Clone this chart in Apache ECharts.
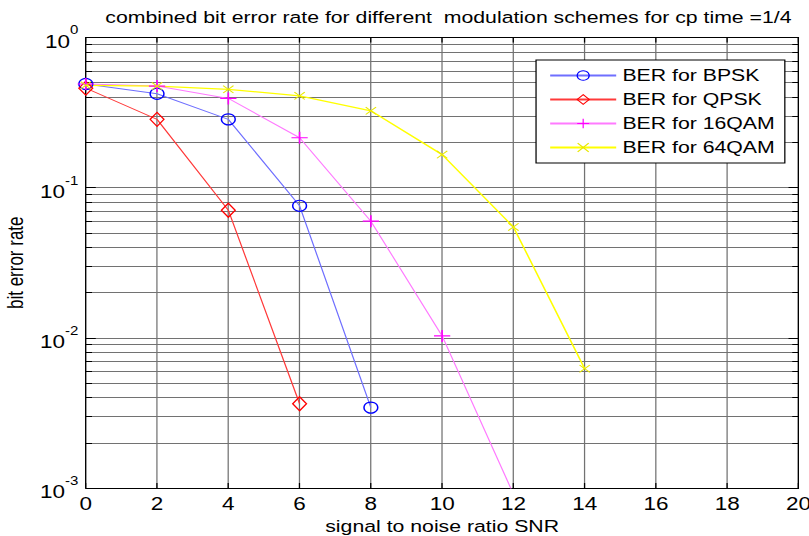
<!DOCTYPE html>
<html><head><meta charset="utf-8">
<script src="https://cdn.jsdelivr.net/npm/echarts@6/dist/echarts.min.js"></script>
<style>
html,body{margin:0;padding:0;background:#fff;overflow:hidden;}
#wrap{width:809px;height:536px;overflow:hidden;}
#chart{width:647px;height:536px;transform:scaleX(1.25039);transform-origin:0 0;}
</style></head><body><div id="wrap"><div id="chart"></div></div>
<script>
const snr = [0, 2, 4, 6, 8, 10, 12, 14];
const berBPSK = [0.49, 0.422, 0.285, 0.0757, 0.00343];
const berQPSK = [0.46, 0.285, 0.0708, 0.00364];
const ber16QAM = [0.49, 0.475, 0.393, 0.215, 0.0598, 0.0103, 0.00091];
const ber64QAM = [0.48, 0.475, 0.452, 0.409, 0.325, 0.166, 0.0548, 0.00623];
const seriesNames = ['BER for BPSK', 'BER for QPSK', 'BER for 16QAM', 'BER for 64QAM'];
const titleText = 'combined bit error rate for different  modulation schemes for cp time =1/4';
const xName = 'signal to noise ratio SNR';
const yName = 'bit error rate';

const FONT = 'Liberation Sans, Arial, sans-serif';
const pair = vals => vals.map((v, i) => [snr[i], v]);

const plusPath = 'path://M-0.6,-6H0.6V-0.6H6V0.6H0.6V6H-0.6V0.6H-6V-0.6H-0.6Z';
const xPath = 'path://M-5,-4.2L-4.2,-5L0,-0.8L4.2,-5L5,-4.2L0.8,0L5,4.2L4.2,5L0,0.8L-4.2,5L-5,4.2L-0.8,0Z';

const chart = echarts.init(document.getElementById('chart'), null, {renderer: 'svg'});
const gridColor = '#727272';
chart.setOption({
  animation: false,
  backgroundColor: '#fff',
  textStyle: {fontFamily: FONT},
  title: {
    text: titleText, left: 353.6, textAlign: 'center', top: 4,
    textStyle: {fontSize: 17, fontWeight: 'normal', color: '#000', fontFamily: FONT}
  },
  grid: {left: 68.6, right: 8.4, top: 37.5, bottom: 48, containLabel: false, outerBoundsMode: 'none'},
  legend: {
    orient: 'vertical', left: 428.7, top: 60,
    padding: [7, 8, 7, 10.3], itemWidth: 52.8, itemHeight: 12, itemGap: 7,
    backgroundColor: '#fff', borderColor: '#000', borderWidth: 1,
    textStyle: {fontSize: 17, color: '#000', fontFamily: FONT},
    itemStyle: {borderWidth: 1},
    data: seriesNames
  },
  xAxis: [{
    type: 'value', min: 0, max: 20, interval: 2, position: 'bottom',
    axisLine: {show: true, onZero: false, lineStyle: {color: '#000', width: 1}},
    axisTick: {show: true, inside: true, length: 5, lineStyle: {color: '#000'}},
    axisLabel: {fontSize: 18, color: '#000', margin: 7, fontFamily: FONT},
    splitLine: {show: true, lineStyle: {color: gridColor, width: 1}},
    name: xName, nameLocation: 'middle', nameGap: 27,
    nameTextStyle: {fontSize: 17, color: '#000', fontFamily: FONT}
  }, {
    type: 'value', min: 0, max: 20, interval: 2, position: 'top',
    axisLine: {show: true, onZero: false, lineStyle: {color: '#000', width: 1}},
    axisTick: {show: true, inside: true, length: 5, lineStyle: {color: '#000'}},
    axisLabel: {show: false}, splitLine: {show: false}
  }],
  yAxis: [{
    type: 'log', logBase: 10, min: 0.001, max: 1, position: 'left',
    axisLine: {show: true, onZero: false, lineStyle: {color: '#000', width: 1}},
    axisTick: {show: true, inside: true, length: 8, lineStyle: {color: '#000'}},
    minorTick: {show: true, splitNumber: 9, length: 5, lineStyle: {color: '#000'}},
    splitLine: {show: true, lineStyle: {color: gridColor, width: 1}},
    minorSplitLine: {show: true, lineStyle: {color: gridColor, width: 1}},
    axisLabel: {
      margin: 6,
      formatter: v => '{b|10}{s|' + Math.round(Math.log10(v)) + '}',
      rich: {
        b: {fontSize: 18, lineHeight: 26, verticalAlign: 'bottom', color: '#000', fontFamily: FONT},
        s: {fontSize: 12, lineHeight: 12, verticalAlign: 'top', color: '#000', fontFamily: FONT}
      }
    },
    name: yName, nameLocation: 'middle', nameGap: 43, nameRotate: 90,
    nameTextStyle: {fontSize: 17, color: '#000', fontFamily: FONT}
  }, {
    type: 'log', logBase: 10, min: 0.001, max: 1, position: 'right',
    axisLine: {show: true, onZero: false, lineStyle: {color: '#000', width: 1}},
    axisTick: {show: true, inside: true, length: 8, lineStyle: {color: '#000'}},
    minorTick: {show: true, splitNumber: 9, length: 5, lineStyle: {color: '#000'}},
    axisLabel: {show: false}, splitLine: {show: false}, minorSplitLine: {show: false}
  }],
  series: [{
    name: seriesNames[0], type: 'line', data: pair(berBPSK),
    symbol: 'circle', symbolSize: [11, 11],
    lineStyle: {color: '#6f6fff', width: 1},
    itemStyle: {color: 'rgba(0,0,0,0)', borderColor: '#0000ff', borderWidth: 1.2}
  }, {
    name: seriesNames[1], type: 'line', data: pair(berQPSK),
    symbol: 'diamond', symbolSize: [11, 14],
    lineStyle: {color: '#ff3a3a', width: 1},
    itemStyle: {color: 'rgba(0,0,0,0)', borderColor: '#ff0000', borderWidth: 1.2}
  }, {
    name: seriesNames[2], type: 'line', data: pair(ber16QAM),
    symbol: plusPath, symbolSize: [13, 12], showAllSymbol: true,
    lineStyle: {color: '#ff7aff', width: 1},
    itemStyle: {color: '#ff00ff', borderWidth: 0}
  }, {
    name: seriesNames[3], type: 'line', data: pair(ber64QAM),
    symbol: xPath, symbolSize: [9, 8], showAllSymbol: true,
    lineStyle: {color: '#ffff00', width: 1.3},
    itemStyle: {color: '#e8e800', borderWidth: 0}
  }]
});
</script></body></html>
